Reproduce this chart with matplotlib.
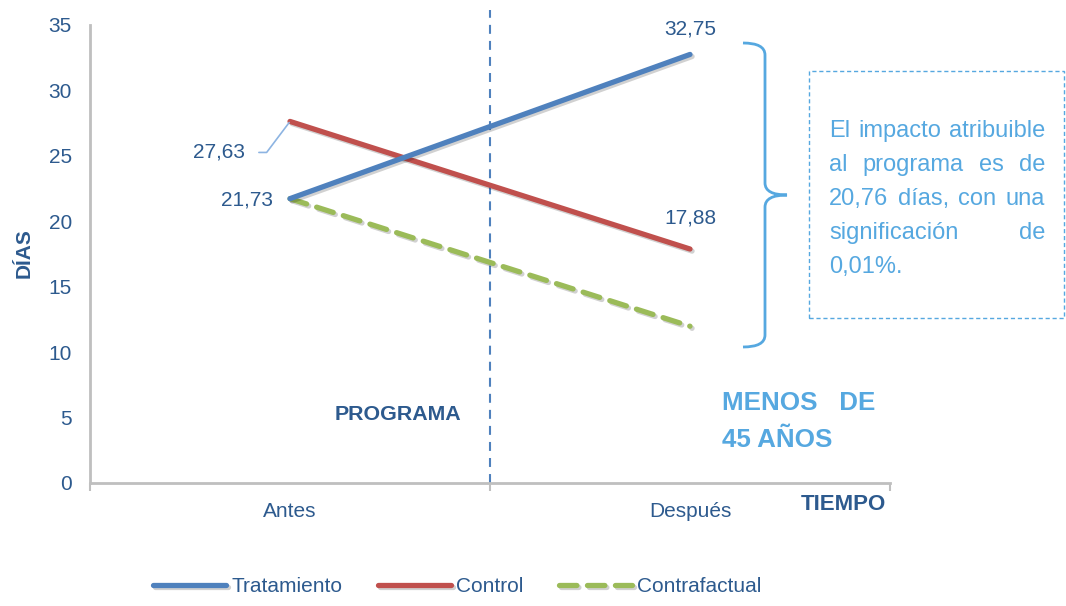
import matplotlib
matplotlib.use("Agg")
import matplotlib.pyplot as plt
import matplotlib.patheffects as pe
from matplotlib.path import Path
from matplotlib.patches import PathPatch, Rectangle

# data
periodos = ["Antes", "Después"]
tratamiento = [21.73, 32.75]
control = [27.63, 17.88]
contrafactual = [21.73, 21.73 - (27.63 - 17.88)]
yticks = [0, 5, 10, 15, 20, 25, 30, 35]

DARK = "#2D5A8E"
LIGHT = "#56A8E0"
BLUE = "#4F81BD"
RED = "#C0504D"
GREEN = "#9BBB59"
GREY = "#BFBFBF"

plt.rcParams["font.family"] = ["Liberation Sans", "DejaVu Sans"]

W, H = 1066, 606
fig = plt.figure(figsize=(W / 100, H / 100), dpi=100)
ax = fig.add_axes([90 / W, 1 - 483 / H, 800 / W, 458 / H])


def fx(px):
    return px / W


def fy(py):
    return 1 - py / H


shadow = [pe.SimpleLineShadow(offset=(1.5, -1.5), alpha=0.18), pe.Normal()]
x = [0, 1]
ax.plot(x, tratamiento, color=BLUE, lw=3.8, solid_capstyle="round",
        label="Tratamiento", path_effects=shadow, zorder=4)
ax.plot(x, control, color=RED, lw=3.8, solid_capstyle="round",
        label="Control", path_effects=shadow, zorder=3)
ax.plot(x, contrafactual, color=GREEN, lw=3.8, dashes=(3.3, 2.0),
        dash_capstyle="round", label="Contrafactual", path_effects=shadow,
        zorder=3)

# programa line
ax.axvline(0.5, ymin=0, ymax=1.033, color=BLUE, lw=1.5, ls=(0, (4.3, 3.4)),
           clip_on=False, zorder=2)

ax.set_xlim(-0.5, 1.5)
ax.set_ylim(0, 35)
ax.set_yticks(yticks)
ax.set_yticklabels([str(v) for v in yticks])
ax.set_xticks(x)
ax.set_xticklabels(periodos)
ax.set_xticks([-0.5, 0.5, 1.5], minor=True)
ax.tick_params(axis="y", length=0, pad=13, labelsize=15, labelcolor=DARK)
ax.tick_params(axis="x", which="major", length=0, pad=14, labelsize=15,
               labelcolor=DARK)
ax.tick_params(axis="x", which="minor", length=5.5, width=1.5, color=GREY)
for s in ["top", "right"]:
    ax.spines[s].set_visible(False)
for s in ["left", "bottom"]:
    ax.spines[s].set_color(GREY)
    ax.spines[s].set_linewidth(2)

# value labels
lab = dict(fontsize=15, color=DARK, textcoords="offset pixels")
ax.annotate("32,75", xy=(1, tratamiento[1]), xytext=(0, 25), ha="center",
            va="center", **lab)
ax.annotate("17,88", xy=(1, control[1]), xytext=(0, 31), ha="center",
            va="center", **lab)
ax.annotate("21,73", xy=(0, tratamiento[0]), xytext=(-17, -1), ha="right",
            va="center", **lab)
ax.annotate("27,63", xy=(0, control[0]), xytext=(-45, -31), ha="right",
            va="center",
            arrowprops=dict(arrowstyle="-", color="#8DB4E2", lw=1.2,
                            shrinkA=8, shrinkB=1,
                            connectionstyle="angle,angleA=0,angleB=53,rad=0"),
            **lab)

ax.text(0.27, 5.2, "PROGRAMA", fontsize=15.4, fontweight="bold", color=DARK,
        ha="center", va="center")

fig.text(fx(722), fy(403), "MENOS   DE", fontsize=18.7, fontweight="bold",
         color=LIGHT, ha="left", va="center")
fig.text(fx(722), fy(440), "45 AÑOS", fontsize=18.7, fontweight="bold",
         color=LIGHT, ha="left", va="center")

fig.text(fx(24), fy(253), "DÍAS", rotation=90, fontsize=15, fontweight="bold",
         color=DARK, ha="center", va="center")
fig.text(fx(886), fy(504), "TIEMPO", fontsize=16, fontweight="bold",
         color=DARK, ha="right", va="center")

# brace
verts = [(743, 43), (765, 43), (765, 55), (765, 183), (765, 195), (787, 195),
         (765, 195), (765, 207), (765, 335), (765, 347), (743, 347)]
codes = [Path.MOVETO, Path.CURVE3, Path.CURVE3, Path.LINETO, Path.CURVE3,
         Path.CURVE3, Path.CURVE3, Path.CURVE3, Path.LINETO, Path.CURVE3,
         Path.CURVE3]
brace = Path([(fx(a), fy(b)) for a, b in verts], codes)
fig.add_artist(PathPatch(brace, fill=False, edgecolor=LIGHT, lw=2,
                         transform=fig.transFigure))

# text box
fig.add_artist(Rectangle((fx(809), fy(318)), fx(1064) - fx(809),
                         fy(71) - fy(318), fill=False, edgecolor=LIGHT,
                         lw=1, ls=(0, (3, 2)), transform=fig.transFigure))

# justified text inside the box
box_lines = ["El impacto atribuible", "al programa es de",
             "20,76 días, con una", "significación de", "0,01%."]
left, right = 829, 1045
renderer = fig.canvas.get_renderer()
for i, line in enumerate(box_lines):
    yy = fy(131 + 34 * i)
    words = line.split(" ")
    if i == len(box_lines) - 1:
        fig.text(fx(left), yy, line, fontsize=17, color=LIGHT, va="center")
        continue
    txts = [fig.text(0, yy, w, fontsize=17, color=LIGHT, va="center")
            for w in words]
    widths = [t.get_window_extent(renderer).width for t in txts]
    gap = (right - left - sum(widths)) / (len(words) - 1)
    pos = left
    for t, wd in zip(txts, widths):
        t.set_x(fx(pos))
        pos += wd + gap

fig.legend(loc="center", bbox_to_anchor=(0.429, fy(587)), ncol=3,
           frameon=False, fontsize=15, labelcolor=DARK, handlelength=3.5,
           columnspacing=1.7, handletextpad=0.25)

fig.savefig("out.png", dpi=100)
